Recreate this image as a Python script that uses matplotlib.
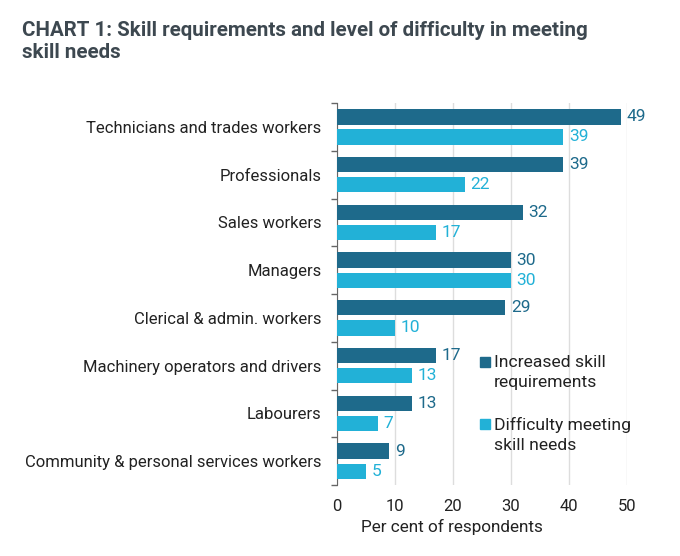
import matplotlib
matplotlib.use("Agg")
import matplotlib.pyplot as plt
import numpy as np

categories = [
    "Technicians and trades workers",
    "Professionals",
    "Sales workers",
    "Managers",
    "Clerical & admin. workers",
    "Machinery operators and drivers",
    "Labourers",
    "Community & personal services workers",
]
increased = [49, 39, 32, 30, 29, 17, 13, 9]
difficulty = [39, 22, 17, 30, 10, 13, 7, 5]
series_names = ["Increased skill\nrequirements", "Difficulty meeting\nskill needs"]
xticks = [0, 10, 20, 30, 40, 50]

dark = "#1e6a8b"
light = "#22b1d7"
plt.rcParams["font.family"] = ["Roboto", "DejaVu Sans"]

fig = plt.figure(figsize=(6.8, 5.56), dpi=100)
ax = fig.add_axes([0.4956, 0.1277, 0.4265, 0.687])

y = np.arange(len(categories))
h = 0.32
off = 0.21
b1 = ax.barh(y - off, increased, height=h, color=dark, zorder=3)
b2 = ax.barh(y + off, difficulty, height=h, color=light, zorder=3)
ax.bar_label(b1, padding=4, color=dark, fontsize=12.5)
ax.bar_label(b2, padding=4, color=light, fontsize=12.5)

ax.set_ylim(len(categories) - 0.5, -0.5)
ax.set_xlim(0, 50)
ax.set_xticks(xticks)
ax.set_xticklabels([str(t) for t in xticks], fontsize=12, color="#222222")
ax.tick_params(axis="x", length=0, pad=10)
ax.set_yticks(y)
ax.set_yticklabels(categories, fontsize=12, color="#222222")
ax.tick_params(axis="y", which="major", length=0, pad=11)
ax.set_yticks(np.arange(len(categories) + 1) - 0.5, minor=True)
ax.tick_params(axis="y", which="minor", length=4, color="#666666", width=1)
ax.xaxis.grid(True, color="#dddddd", linewidth=1, zorder=0)
ax.set_axisbelow(True)
for s in ["top", "right", "bottom"]:
    ax.spines[s].set_visible(False)
ax.spines["left"].set_color("#666666")
ax.set_xlabel("Per cent of respondents", fontsize=12.3, color="#222222", labelpad=1)
ax.xaxis.set_label_coords(0.396, -0.088)

# legend
leg_y = [0.323, 0.16]
for yy, col, name in zip(leg_y, [dark, light], series_names):
    ax.plot([0.512], [yy], marker="s", markersize=6.5, color=col,
            transform=ax.transAxes, clip_on=False, zorder=4)
    ax.text(0.54, yy + 0.018, name, transform=ax.transAxes, fontsize=12.6,
            color="#222222", va="top", ha="left", linespacing=1.42)

fig.text(0.032, 0.962, "CHART 1: Skill requirements and level of difficulty in meeting\nskill needs",
         fontsize=14.8, fontweight="bold", color="#3d4850", va="top", ha="left",
         linespacing=1.2)

fig.savefig("out.png", dpi=100)
